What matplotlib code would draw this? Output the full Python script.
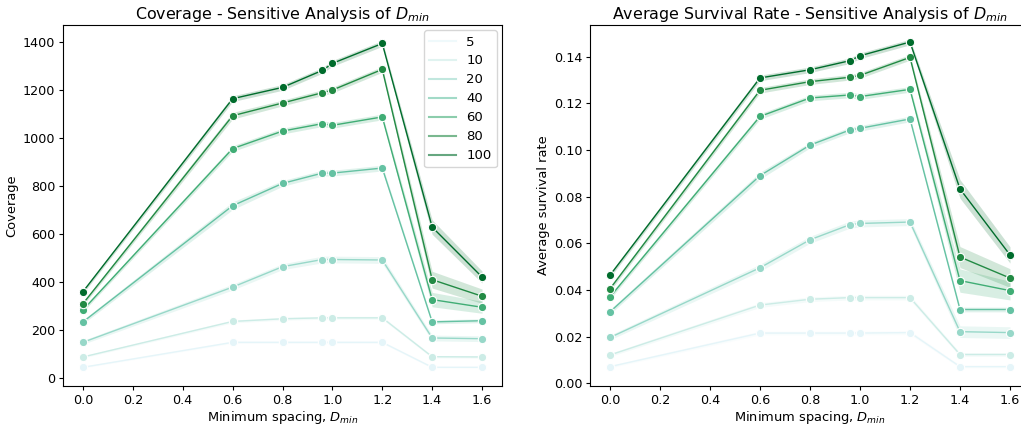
import matplotlib
matplotlib.use("Agg")
import matplotlib.pyplot as plt
from matplotlib.lines import Line2D
import seaborn as sns
import numpy as np

x_vals = [0.0, 0.6, 0.8, 0.96, 1.0, 1.2, 1.4, 1.6]
hue_levels = [5, 10, 20, 40, 60, 80, 100]

# Coverage means
cov_5 = [46, 150, 150, 150, 150, 150, 46, 46]
cov_10 = [89, 237, 248, 252, 252, 252, 90, 89]
cov_20 = [150, 380, 465, 495, 495, 493, 168, 165]
cov_40 = [235, 719, 812, 855, 855, 876, 235, 240]
cov_60 = [285, 957, 1030, 1061, 1054, 1089, 328, 296]
cov_80 = [311, 1094, 1147, 1190, 1201, 1287, 411, 342]
cov_100 = [361, 1165, 1212, 1283, 1312, 1395, 630, 422]

# Coverage CI half widths
cov_ci_5 = [3, 4, 4, 4, 4, 4, 3, 3]
cov_ci_10 = [4, 6, 6, 6, 6, 6, 5, 5]
cov_ci_20 = [8, 12, 12, 14, 14, 14, 12, 12]
cov_ci_40 = [8, 16, 12, 12, 12, 12, 8, 8]
cov_ci_60 = [8, 12, 12, 12, 12, 12, 30, 25]
cov_ci_80 = [8, 14, 12, 12, 12, 12, 35, 30]
cov_ci_100 = [8, 12, 12, 12, 12, 12, 30, 25]

# Survival rate means
sr_5 = [0.0071, 0.0215, 0.0215, 0.0215, 0.0215, 0.0217, 0.0071, 0.0071]
sr_10 = [0.0121, 0.0335, 0.0360, 0.0367, 0.0367, 0.0367, 0.0123, 0.0123]
sr_20 = [0.0196, 0.0495, 0.0615, 0.0680, 0.0685, 0.0691, 0.0221, 0.0217]
sr_40 = [0.0306, 0.0890, 0.1021, 0.1086, 0.1093, 0.1133, 0.0316, 0.0316]
sr_60 = [0.0370, 0.1144, 0.1223, 0.1236, 0.1229, 0.1260, 0.0440, 0.0397]
sr_80 = [0.0405, 0.1256, 0.1293, 0.1312, 0.1320, 0.1397, 0.0541, 0.0451]
sr_100 = [0.0463, 0.1309, 0.1344, 0.1383, 0.1404, 0.1463, 0.0833, 0.0550]

# Survival rate CI half widths
sr_ci_5 = [0.0005, 0.0008, 0.0008, 0.0008, 0.0008, 0.0008, 0.0005, 0.0005]
sr_ci_10 = [0.0007, 0.0010, 0.0010, 0.0010, 0.0010, 0.0010, 0.0008, 0.0008]
sr_ci_20 = [0.0010, 0.0015, 0.0015, 0.0015, 0.0015, 0.0015, 0.0025, 0.0025]
sr_ci_40 = [0.0010, 0.0015, 0.0012, 0.0012, 0.0012, 0.0012, 0.0010, 0.0010]
sr_ci_60 = [0.0010, 0.0012, 0.0012, 0.0012, 0.0012, 0.0012, 0.0050, 0.0040]
sr_ci_80 = [0.0010, 0.0012, 0.0012, 0.0012, 0.0012, 0.0012, 0.0045, 0.0040]
sr_ci_100 = [0.0010, 0.0012, 0.0012, 0.0012, 0.0012, 0.0012, 0.0040, 0.0035]

cov_series = [cov_5, cov_10, cov_20, cov_40, cov_60, cov_80, cov_100]
cov_cis = [cov_ci_5, cov_ci_10, cov_ci_20, cov_ci_40, cov_ci_60, cov_ci_80, cov_ci_100]
sr_series = [sr_5, sr_10, sr_20, sr_40, sr_60, sr_80, sr_100]
sr_cis = [sr_ci_5, sr_ci_10, sr_ci_20, sr_ci_40, sr_ci_60, sr_ci_80, sr_ci_100]

colors = sns.color_palette("BuGn", len(hue_levels))

plt.rcParams['font.family'] = ['DejaVu Sans']
fig = plt.figure(figsize=(10.21, 4.24), dpi=100)
ax1 = fig.add_axes([63/1021, 1-386/424, (502-63)/1021, (386-25)/424])
ax2 = fig.add_axes([590/1021, 1-386/424, (1030-590)/1021, (386-25)/424])

TFS = 9.2
LFS = 9.4

def draw(ax, series, cis):
    x = np.array(x_vals)
    for c, s, ci in zip(colors, series, cis):
        s = np.array(s, dtype=float)
        ci = np.array(ci, dtype=float)
        ax.fill_between(x, s - ci, s + ci, color=c, alpha=0.2, linewidth=0)
        ax.plot(x, s, color=c, lw=1.0, marker='o', ms=6,
                markeredgecolor='white', markeredgewidth=0.8)
    ax.set_xlim(-0.08, 1.68)
    ax.set_xticks([0.0, 0.2, 0.4, 0.6, 0.8, 1.0, 1.2, 1.4, 1.6])
    ax.tick_params(labelsize=TFS, length=3, pad=2.5)
    ax.set_xlabel("Minimum spacing, $D_{min}$", fontsize=LFS, labelpad=1.5)

draw(ax1, cov_series, cov_cis)
draw(ax2, sr_series, sr_cis)

ax1.set_ylim(-32, 1472)
ax1.set_yticks([0, 200, 400, 600, 800, 1000, 1200, 1400])
ax1.set_ylabel("Coverage", fontsize=LFS, labelpad=3)
ax1.set_title("Coverage - Sensitive Analysis of $D_{min}$", fontsize=11.4, pad=4)

ax2.set_ylim(-0.0012, 0.1536)
ax2.set_yticks([0.00, 0.02, 0.04, 0.06, 0.08, 0.10, 0.12, 0.14])
ax2.set_yticklabels([f"{v:.2f}" for v in [0.00, 0.02, 0.04, 0.06, 0.08, 0.10, 0.12, 0.14]])
ax2.set_ylabel("Average survival rate", fontsize=LFS, labelpad=3)
ax2.set_title("Average Survival Rate - Sensitive Analysis of $D_{min}$", fontsize=11.4, pad=4)

handles = [Line2D([0], [0], color=c, lw=1.5, alpha=0.6) for c in colors]
ax1.legend(handles, [str(h) for h in hue_levels], loc='upper right', fontsize=9.5,
           handlelength=2.0, labelspacing=0.45, borderaxespad=0.4)

fig.savefig("out.png", dpi=100)
